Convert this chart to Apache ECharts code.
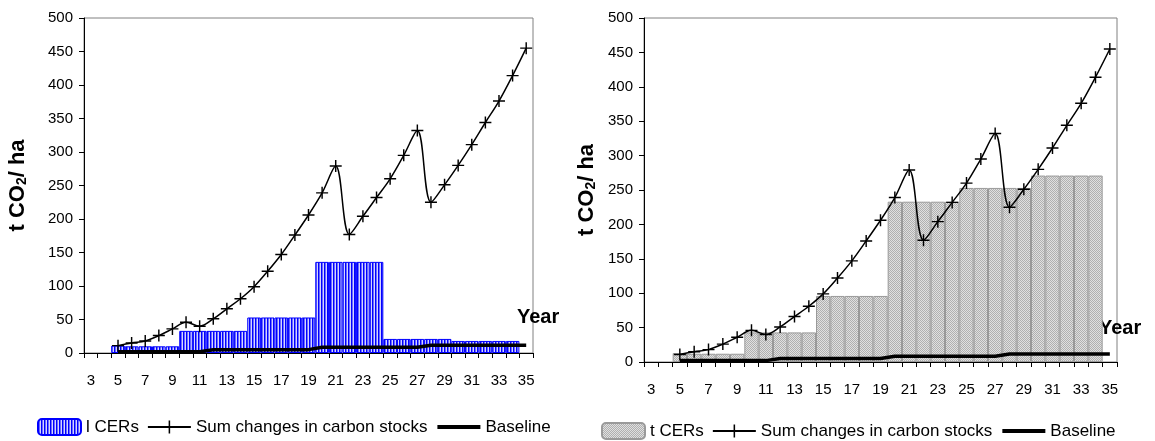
<!DOCTYPE html>
<html>
<head>
<meta charset="utf-8">
<title>lCERs and tCERs versus carbon stock changes</title>
<script src="https://cdn.jsdelivr.net/npm/echarts@6/dist/echarts.min.js"></script>
<style>
  html, body { margin: 0; padding: 0; background: #fff; }
  #chart { width: 1155px; height: 441px; }
</style>
</head>
<body>
<div id="chart"></div>
<script>
// Years of the project (category axis)
const years = ['3','4','5','6','7','8','9','10','11','12','13','14','15','16','17','18','19',
  '20','21','22','23','24','25','26','27','28','29','30','31','32','33','34','35'];

// Sum of changes in carbon stocks (t CO2/ha), same in both panels
const carbonStocks = [null, null, 11, 15, 18, 26, 36, 46, 40, 51, 66, 81, 99, 122, 147, 176, 206,
  239, 279, 177, 204, 232, 260, 295, 332, 225, 251, 280, 311, 344, 376, 414, 455];

// Baseline carbon stock (t CO2/ha)
const baseline = [null, null, 2, 2, 2, 2, 2, 2, 2, 5, 5, 5, 5, 5, 5, 5, 5,
  8.5, 8.5, 8.5, 8.5, 8.5, 8.5, 8.5, 8.5, 11.5, 11.5, 11.5, 11.5, 11.5, 11.5, 11.5, 11.5];

// Long-term CERs issued per year (left panel)
const lCERs = [null, null, 11, 10, 10, 10, 10, 33, 33, 33, 33, 33, 53, 53, 53, 53, 53,
  136, 136, 136, 136, 136, 21, 21, 21, 21, 21, 18, 18, 18, 18, 18, null];

// Temporary CERs issued per year (right panel)
const tCERs = [null, null, 13, 12, 12, 12, 12, 43, 43, 43, 43, 43, 96, 96, 96, 96, 96,
  233, 233, 233, 233, 233, 253, 253, 253, 253, 253, 271, 271, 271, 271, 271, null];

const yTicks = { min: 0, max: 500, interval: 50 };

const FONT = "'Liberation Sans', Arial, sans-serif";

// Fine vertical blue hatching for the lCER bars
function stripePattern() {
  const c = document.createElement('canvas');
  c.width = 3; c.height = 4;
  const g = c.getContext('2d');
  const cols = ['#0000ff', '#6a6aff', '#d4d4ff'];
  cols.forEach((col, i) => { g.fillStyle = col; g.fillRect(i, 0, 1, 4); });
  return c;
}
// Fine grey stipple for the tCER bars
function stipplePattern() {
  const c = document.createElement('canvas');
  c.width = 2; c.height = 2;
  const g = c.getContext('2d');
  g.fillStyle = '#e0e0e0'; g.fillRect(0, 0, 2, 2);
  g.fillStyle = '#b0b0b0'; g.fillRect(0, 0, 1, 1); g.fillRect(1, 1, 1, 1);
  return c;
}

const crossSymbol = 'path://M4.4,0 H5.6 V4.4 H10 V5.6 H5.6 V10 H4.4 V5.6 H0 V4.4 H4.4 Z';

function xAxisFor(gridIndex) {
  return {
    type: 'category', gridIndex, data: years, boundaryGap: true,
    axisLine: { lineStyle: { color: '#000', width: 1 } },
    axisTick: { show: true, interval: 0, length: 5, lineStyle: { color: '#000' } },
    axisLabel: { interval: 1, margin: 20, color: '#000', fontSize: 15, fontFamily: FONT },
    splitLine: { show: false }
  };
}
function yAxisFor(gridIndex, gap) {
  return {
    type: 'value', gridIndex, min: yTicks.min, max: yTicks.max, interval: yTicks.interval,
    axisLine: { show: true, lineStyle: { color: '#000', width: 1 } },
    axisTick: { show: true, length: 5, lineStyle: { color: '#000' } },
    axisLabel: { margin: 11, color: '#000', fontSize: 15, fontFamily: FONT },
    splitLine: { show: false },
    name: 't CO{s|2}/ ha', nameLocation: 'middle', nameGap: gap, nameRotate: 90,
    nameTextStyle: {
      color: '#000', fontSize: 22, fontWeight: 'bold', fontFamily: FONT,
      rich: { s: { color: '#000', fontSize: 14, fontWeight: 'bold', fontFamily: FONT, padding: [9, 0, 0, 0] } }
    }
  };
}

function stockSeries(idx) {
  return {
    name: 'Sum changes in carbon stocks', type: 'line', xAxisIndex: idx, yAxisIndex: idx,
    data: carbonStocks, smooth: 0.35, symbol: crossSymbol, symbolSize: 12, showAllSymbol: true,
    itemStyle: { color: '#000' }, lineStyle: { color: '#000', width: 1.5 }, z: 4
  };
}
function baselineSeries(idx) {
  return {
    name: 'Baseline', type: 'line', xAxisIndex: idx, yAxisIndex: idx,
    data: baseline, symbol: 'none', itemStyle: { color: '#000' },
    lineStyle: { color: '#000', width: 3.5 }, z: 3
  };
}

const legendCommon = {
  orient: 'horizontal', itemWidth: 43, itemHeight: 16, itemGap: 8, padding: 0,
  textStyle: { color: '#000', fontSize: 17, fontFamily: FONT },
  selectedMode: false
};

function legendItems(barName) {
  return [
    barName,
    'Sum changes in carbon stocks',
    { name: 'Baseline', itemStyle: { opacity: 0 }, lineStyle: { width: 4, color: '#000' } }
  ];
}

const option = {
  animation: false,
  backgroundColor: '#fff',
  grid: [
    { left: 84, top: 18, width: 449, height: 335, show: true, borderColor: '#808080', borderWidth: 1 },
    { left: 644, top: 18, width: 473, height: 344, show: true, borderColor: '#808080', borderWidth: 1 }
  ],
  xAxis: [xAxisFor(0), xAxisFor(1)],
  yAxis: [yAxisFor(0, 55), yAxisFor(1, 46)],
  legend: [
    Object.assign({ left: 37, top: 418, data: legendItems('l CERs') }, legendCommon),
    Object.assign({ left: 601, top: 422, data: legendItems('t CERs') }, legendCommon)
  ],
  graphic: [
    { type: 'text', left: 517, top: 307, style: { text: 'Year', font: 'bold 20px ' + FONT, fill: '#000' } },
    { type: 'text', left: 1099, top: 318, style: { text: 'Year', font: 'bold 20px ' + FONT, fill: '#000' } }
  ],
  series: [
    {
      name: 'l CERs', type: 'bar', xAxisIndex: 0, yAxisIndex: 0, data: lCERs,
      barCategoryGap: '0%', barGap: '0%',
      itemStyle: { color: { image: stripePattern(), repeat: 'repeat' }, borderColor: '#0000ff', borderWidth: 1 },
      z: 2
    },
    stockSeries(0),
    baselineSeries(0),
    {
      name: 't CERs', type: 'bar', xAxisIndex: 1, yAxisIndex: 1, data: tCERs,
      barCategoryGap: '0%', barGap: '0%',
      itemStyle: { color: { image: stipplePattern(), repeat: 'repeat' }, borderColor: '#9a9a9a', borderWidth: 1 },
      z: 2
    },
    stockSeries(1),
    baselineSeries(1)
  ]
};

echarts.init(document.getElementById('chart'), null, { renderer: 'canvas' }).setOption(option);
</script>
</body>
</html>
